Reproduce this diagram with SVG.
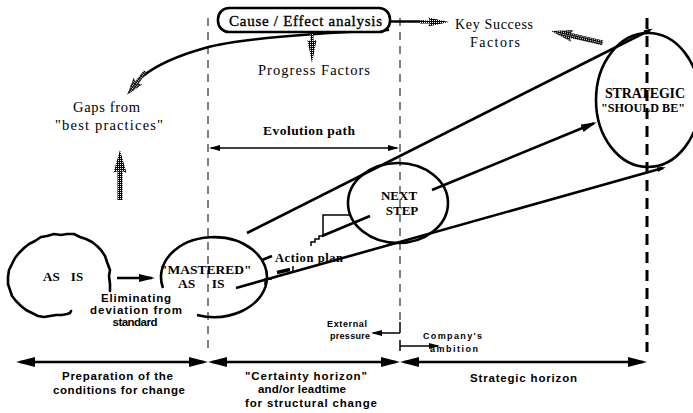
<svg xmlns="http://www.w3.org/2000/svg" width="693" height="413" viewBox="0 0 693 413">
<defs>
<pattern id="stip" width="2" height="2" patternUnits="userSpaceOnUse"><rect width="2" height="2" fill="#000"/><rect width="1" height="1" fill="#fff"/></pattern>
<marker id="big" markerUnits="userSpaceOnUse" viewBox="0 0 19 10" markerWidth="19" markerHeight="10" refX="15" refY="5" orient="auto-start-reverse"><path d="M0,0 L19,5 L0,10 z" fill="#000"/></marker>
<marker id="mid" markerUnits="userSpaceOnUse" viewBox="0 0 16 8" markerWidth="16" markerHeight="8" refX="13" refY="4" orient="auto-start-reverse"><path d="M0,0 L16,4 L0,8 z" fill="#000"/></marker>
<marker id="sm" markerUnits="userSpaceOnUse" viewBox="0 0 11 6" markerWidth="11" markerHeight="6" refX="9" refY="3" orient="auto-start-reverse"><path d="M0,0 L11,3 L0,6 z" fill="#000"/></marker>
<marker id="barb" markerUnits="userSpaceOnUse" viewBox="0 0 9 5" markerWidth="9" markerHeight="5" refX="6" refY="2.5" orient="auto"><path d="M0,0 L9,2.5 L0,5 z" fill="#000"/></marker>
</defs>
<style>
.ln{stroke:#000;fill:none;stroke-width:2.6}
.thin{stroke:#000;fill:none;stroke-width:1.5}
.dash{stroke:#000;stroke-width:1;stroke-dasharray:8 6;fill:none}
.tdash{stroke:#000;stroke-width:3;stroke-dasharray:11 7;fill:none}
.sf{font-family:"Liberation Serif","Times New Roman",serif;fill:#000}
.ss{font-family:"Liberation Sans",Arial,sans-serif;font-weight:bold;fill:#000}
.b{font-weight:bold}
.st{fill:url(#stip)}
</style>
<rect width="693" height="413" fill="#fff"/>

<g id="guides">
<line class="dash" x1="208" y1="18" x2="208" y2="352"/>
<line class="dash" x1="400" y1="18" x2="400" y2="320"/>
<line class="tdash" x1="647" y1="18" x2="647" y2="352"/>
</g>

<g id="connectors">
<path class="ln" d="M388,30 C320,33 240,38 205,48 C180,55 158,64 143,76" stroke-width="5" stroke-linecap="round"/>
<polygon class="st" transform="translate(127,95) rotate(-52)" points="0,0 18,-5.5 16,-2 30,-2 30,2 16,2 18,5.5"/>
<line class="ln" x1="390" y1="21.5" x2="424" y2="21.5"/>
<polygon class="st" points="449,22 428,17.5 430,20.5 420,20.5 420,23.5 430,23.5 428,26.5"/>
<polygon class="st" points="312,63 316.5,40 313.5,41 313.5,32 310.5,32 310.5,41 307.5,40"/>
<polygon class="st" transform="translate(551,31) rotate(13)" points="0,0 22,-6 20,-2.5 53,-2.5 53,2.5 20,2.5 22,6"/>
<polygon class="st" points="120,150 126.5,173 122.5,171 122.5,200 117.5,200 117.5,171 113.5,173"/>
<line class="thin" x1="211" y1="148" x2="397" y2="148" marker-start="url(#sm)" marker-end="url(#sm)"/>
<line class="ln" x1="117" y1="278" x2="152" y2="278" marker-end="url(#mid)"/>
<line class="ln" x1="247" y1="233" x2="650" y2="30" marker-end="url(#barb)"/>
<line class="ln" x1="236" y1="288" x2="663" y2="168" marker-end="url(#barb)"/>
<line class="ln" x1="262" y1="260" x2="272" y2="256"/>
<line class="ln" x1="322" y1="236" x2="370" y2="216"/>
<line class="ln" x1="432" y1="190" x2="594" y2="123.3" marker-end="url(#mid)"/>
<path class="thin" d="M265,285 V279 H272 M293,271 V266 M311,246 V242 H315 V239 H319 V236 H323 V215 H350" stroke-width="2"/>
<line x1="277" y1="272.5" x2="290" y2="269.5" stroke="#000" stroke-width="3.5"/>
<line class="thin" x1="400" y1="322" x2="400" y2="333"/>
<line class="thin" x1="400" y1="333" x2="373" y2="333" marker-end="url(#sm)"/>
<line class="thin" x1="400" y1="340" x2="400" y2="351"/>
<line class="thin" x1="400" y1="346" x2="438" y2="346" marker-end="url(#sm)"/>
<line class="ln" x1="20" y1="362" x2="204" y2="362" marker-start="url(#big)" marker-end="url(#big)"/>
<line class="ln" x1="212" y1="362" x2="396" y2="362" marker-start="url(#big)" marker-end="url(#big)"/>
<line class="ln" x1="404" y1="362" x2="643" y2="362" marker-start="url(#big)" marker-end="url(#big)"/>
</g>

<g id="cause-effect">
<rect x="218" y="8" width="172" height="24" rx="11" fill="#fff" stroke="#000" stroke-width="2.6"/>
<text class="sf" x="229" y="26" font-size="15" textLength="153" lengthAdjust="spacing" stroke="#000" stroke-width="0.35">Cause / Effect analysis</text>
</g>
<g id="progress-factors"><text class="sf" x="258" y="75" font-size="14.5" textLength="112" lengthAdjust="spacing">Progress Factors</text></g>
<g id="key-success">
<text class="sf" x="455" y="29" font-size="14" textLength="78" lengthAdjust="spacing">Key Success</text>
<text class="sf" x="470" y="47" font-size="14" textLength="50" lengthAdjust="spacing">Factors</text>
</g>
<g id="gaps">
<text class="sf" x="73" y="112" font-size="14.5" textLength="67" lengthAdjust="spacing">Gaps from</text>
<text class="sf" x="55" y="130" font-size="14.5" textLength="108" lengthAdjust="spacing">"best practices"</text>
</g>
<g id="evolution-path"><text class="sf b" x="263" y="135" font-size="13.5" textLength="92" lengthAdjust="spacing">Evolution path</text></g>

<g id="as-is">
<path class="ln" stroke-width="3" stroke-linejoin="round" stroke-linecap="round" d="M110,291 L110,284 L109,276 L110,270 L107,262 L105,256 L101,250 L97,246 L92,242 L86,239 L80,237 L74,234 L67,234 L61,235 L54,234 L47,236 L41,237 L35,241 L29,244 L24,248 L19,253 L15,258 L12,264 L9,270 L8,277 L8,284 L10,290 L12,296 L16,301 L21,306 L26,310 L32,313 L38,316 L44,317 L50,316 L56,315 L62,315 L67,314 L70,313 L71,311"/>
<text class="sf b" x="43" y="281" font-size="13" word-spacing="8">AS IS</text>
</g>
<g id="eliminating">
<text class="ss" x="136" y="302" font-size="11.5" text-anchor="middle" textLength="70" lengthAdjust="spacing">Eliminating</text>
<text class="ss" x="136" y="314" font-size="11.5" text-anchor="middle" textLength="92" lengthAdjust="spacing">deviation from</text>
<text class="ss" x="135" y="326" font-size="11.5" text-anchor="middle" textLength="45" lengthAdjust="spacing">standard</text>
</g>
<g id="mastered">
<path class="ln" d="M197,315 A53,40 0 1 0 163,288"/>
<text class="sf b" x="160" y="274" font-size="13.5">"MASTERED"</text>
<text class="sf b" x="178" y="288" font-size="13.5" word-spacing="13">AS IS</text>
</g>
<g id="action-plan"><text class="sf b" x="275" y="262" font-size="12.5" textLength="68" lengthAdjust="spacing">Action plan</text></g>
<g id="next-step">
<ellipse class="ln" cx="398" cy="203" rx="50" ry="40"/>
<text class="sf b" x="399" y="200" font-size="13" text-anchor="middle">NEXT</text>
<text class="sf b" x="402" y="215" font-size="13" text-anchor="middle">STEP</text>
</g>
<g id="strategic">
<ellipse class="ln" cx="648" cy="100" rx="52" ry="67"/>
<text class="sf b" x="605" y="98" font-size="14" textLength="80" lengthAdjust="spacing">STRATEGIC</text>
<text class="sf b" x="601" y="112" font-size="13.5" textLength="84" lengthAdjust="spacingAndGlyphs">"SHOULD BE"</text>
</g>
<g id="external"><text class="ss" x="327" y="327" font-size="9" textLength="40" lengthAdjust="spacing">External</text>
<text class="ss" x="330" y="339" font-size="9" textLength="40" lengthAdjust="spacing">pressure</text></g>
<g id="ambition"><text class="ss" x="423" y="339" font-size="9" textLength="59" lengthAdjust="spacing">Company's</text>
<text class="ss" x="430" y="352" font-size="9" textLength="48" lengthAdjust="spacing">ambition</text></g>
<g id="horizon-labels">
<text class="ss" x="62" y="380" font-size="11.5" textLength="111" lengthAdjust="spacing">Preparation of the</text>
<text class="ss" x="53" y="394" font-size="11.5" textLength="132" lengthAdjust="spacing">conditions for change</text>
<text class="ss" x="245" y="380" font-size="11.5" textLength="122" lengthAdjust="spacing">"Certainty horizon"</text>
<text class="ss" x="258" y="393" font-size="11.5" textLength="88" lengthAdjust="spacing">and/or leadtime</text>
<text class="ss" x="245" y="407" font-size="11.5" textLength="132" lengthAdjust="spacing">for structural change</text>
<text class="ss" x="470" y="382" font-size="11.5" textLength="107" lengthAdjust="spacing">Strategic horizon</text>
</g>
</svg>
